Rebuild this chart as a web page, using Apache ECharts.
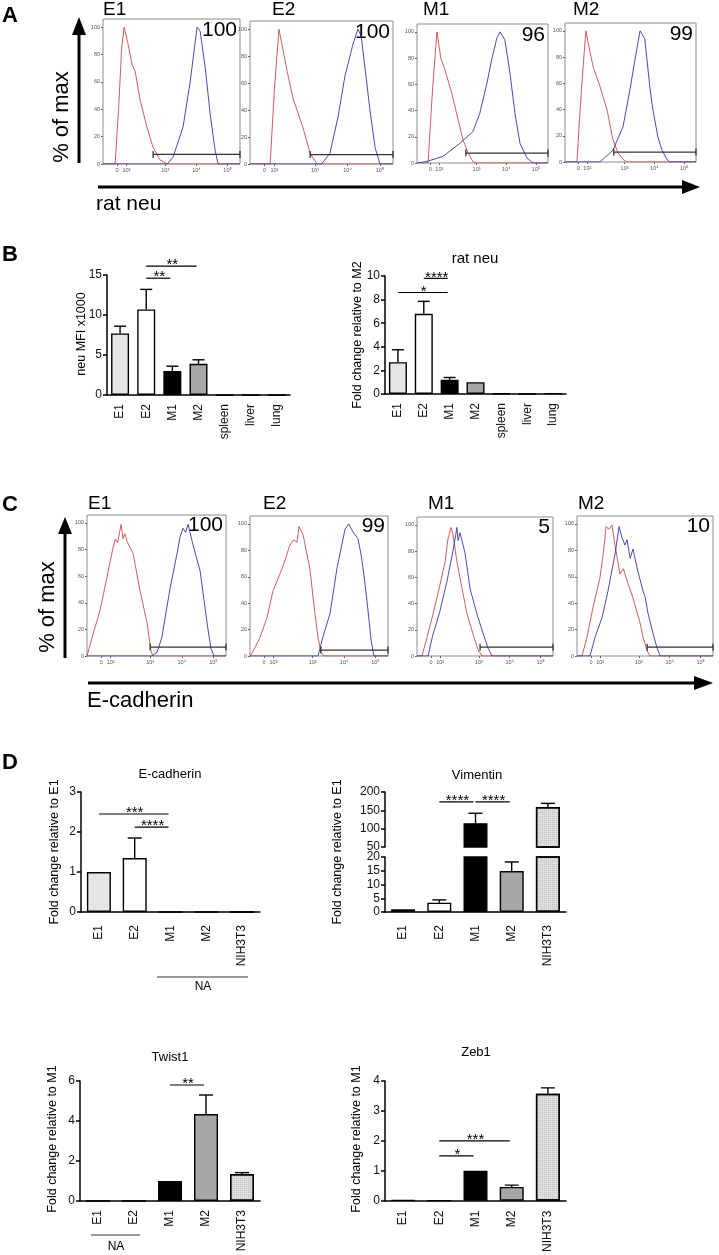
<!DOCTYPE html>
<html>
<head>
<meta charset="utf-8">
<script src="https://cdn.jsdelivr.net/npm/echarts@6/dist/echarts.min.js"></script>
<style>
  html, body { margin: 0; padding: 0; background: #fff; }
  #chart { width: 719px; height: 1255px; }
</style>
</head>
<body>
<div id="chart"></div>
<script>
const FONT = "'Liberation Sans', Arial, Helvetica, sans-serif"

// ---------- flow histograms: x = log fluorescence (decades), y = % of max ----------
const histTickValues = [1.45, 1.75, 3, 4, 5]
const histTickText = ['0', '10²', '10³', '10⁴', '10⁵']
const histYTicks = [0, 20, 40, 60, 80, 100]
const histXMax = 5.4
const sampleNames = ['E1', 'E2', 'M1', 'M2']

// A: rat neu
const neuPositive = ['100', '100', '96', '99']
const neuCtrlE1 = [[1, 0], [1.39, 0], [1.5, 40], [1.6, 85], [1.68, 100], [1.8, 88], [1.93, 73], [2.03, 68], [2.19, 47], [2.41, 27], [2.61, 12], [2.83, 3], [3.06, 0], [5.4, 0]]
const neuStainE1 = [[1, 0], [3.06, 0], [3.25, 5], [3.57, 27], [3.8, 60], [3.96, 89], [4.02, 100], [4.12, 97], [4.28, 71], [4.44, 37], [4.6, 10], [4.7, 0], [5.4, 0]]
const neuCtrlE2 = [[1, 0], [1.62, 0], [1.75, 55], [1.89, 100], [2.02, 84], [2.14, 69], [2.32, 49], [2.63, 27], [2.85, 8], [3.06, 0], [5.4, 0]]
const neuStainE2 = [[1, 0], [3.2, 0], [3.46, 8], [3.71, 35], [3.92, 65], [4.17, 89], [4.32, 100], [4.42, 95], [4.57, 65], [4.69, 40], [4.85, 12], [5.0, 0], [5.4, 0]]
const neuCtrlM1 = [[1, 0], [1.37, 0], [1.52, 55], [1.67, 100], [1.8, 80], [1.94, 71], [2.17, 53], [2.38, 33], [2.54, 18], [2.71, 8], [2.88, 1], [3.0, 0], [5.4, 0]]
const neuStainM1 = [[1, 0], [1.3, 1], [1.87, 5], [2.44, 15], [2.88, 24], [3.11, 38], [3.35, 61], [3.52, 80], [3.68, 95], [3.79, 100], [3.95, 94], [4.12, 69], [4.29, 38], [4.46, 15], [4.69, 4], [4.89, 0], [5.4, 0]]
const neuCtrlM2 = [[1, 0], [1.4, 0], [1.55, 55], [1.7, 100], [1.94, 73], [2.17, 58], [2.41, 40], [2.61, 17], [2.78, 7], [2.95, 2], [3.08, 0], [5.4, 0]]
const neuStainM2 = [[1, 0], [2.17, 0], [2.61, 9], [2.95, 27], [3.18, 55], [3.35, 78], [3.52, 100], [3.68, 94], [3.85, 57], [3.95, 40], [4.12, 19], [4.26, 9], [4.42, 2], [4.52, 0], [5.4, 0]]
const neuGateFrom = [2.61, 2.85, 2.64, 2.64]
const neuGateAt = [7, 7, 7.6, 7.6]

// C: E-cadherin
const ecadPositive = ['100', '99', '5', '10']
const ecadCtrlE1 = [[1, 0], [1.03, 0], [1.16, 14], [1.41, 34], [1.63, 59], [1.82, 81], [1.9, 88], [1.97, 85], [2.08, 99], [2.14, 88], [2.2, 92], [2.27, 86], [2.46, 77], [2.68, 49], [2.9, 25], [3.03, 3], [3.09, 0], [5.4, 0]]
const ecadStainE1 = [[1, 0], [3.06, 0], [3.22, 3], [3.37, 14], [3.63, 51], [3.85, 77], [3.95, 90], [4.04, 96], [4.12, 93], [4.2, 99], [4.26, 99], [4.35, 84], [4.58, 64], [4.8, 25], [4.92, 6], [5.02, 0], [5.4, 0]]
const ecadCtrlE2 = [[1, 0], [1.06, 2], [1.32, 14], [1.54, 29], [1.73, 49], [2.02, 66], [2.15, 75], [2.27, 84], [2.4, 88], [2.5, 86], [2.56, 98], [2.69, 92], [2.91, 66], [3.07, 32], [3.17, 14], [3.26, 3], [3.36, 0], [5.4, 0]]
const ecadStainE2 = [[1, 0], [3.17, 0], [3.32, 14], [3.55, 32], [3.77, 66], [4.03, 96], [4.15, 100], [4.28, 94], [4.44, 89], [4.54, 77], [4.63, 62], [4.76, 35], [4.86, 12], [4.95, 0], [5.4, 0]]
const ecadCtrlM1 = [[1, 0], [1.16, 0], [1.32, 14], [1.52, 32], [1.74, 54], [1.91, 72], [2.0, 89], [2.1, 98], [2.17, 92], [2.29, 72], [2.46, 51], [2.62, 32], [2.81, 17], [2.97, 5], [3.1, 0], [5.4, 0]]
const ecadStainM1 = [[1, 0], [1.36, 0], [1.49, 14], [1.74, 34], [1.97, 57], [2.17, 81], [2.25, 92], [2.29, 98], [2.33, 88], [2.39, 94], [2.55, 79], [2.72, 51], [2.94, 32], [3.14, 17], [3.3, 6], [3.43, 0], [5.4, 0]]
const ecadCtrlM2 = [[1, 0], [1.16, 0], [1.32, 14], [1.52, 37], [1.74, 59], [1.85, 78], [1.94, 98], [2.03, 96], [2.13, 99], [2.23, 84], [2.39, 62], [2.5, 66], [2.62, 57], [2.81, 44], [3.04, 25], [3.14, 14], [3.27, 4], [3.36, 0], [5.4, 0]]
const ecadStainM2 = [[1, 0], [1.42, 0], [1.58, 14], [1.81, 29], [2.0, 49], [2.23, 77], [2.36, 98], [2.45, 90], [2.55, 84], [2.62, 88], [2.72, 74], [2.81, 81], [2.97, 64], [3.14, 49], [3.2, 45], [3.3, 32], [3.46, 17], [3.59, 6], [3.69, 0], [5.4, 0]]
const ecadGateFrom = [3.0, 3.26, 3.04, 3.27]
const ecadGateAt = [6.7, 4.5, 6.7, 6.7]

// ---------- bar charts ----------
// B
const tissueCats = ['E1', 'E2', 'M1', 'M2', 'spleen', 'liver', 'lung']
const neuMfiMean = [7.7, 10.7, 3.0, 3.9, 0, 0, 0]
const neuMfiSem = [0.9, 2.5, 0.6, 0.5, 0, 0, 0]
const neuMfiSig = [['E2', 'M1', 14.6, '**'], ['E2', 'M2', 16.1, '**']]
const neuFoldMean = [2.7, 6.8, 1.2, 1.0, 0.05, 0, 0.07]
const neuFoldSem = [1.05, 1.05, 0.2, 0, 0, 0, 0]
const neuFoldSig = [['E1', 'M1', 8.6, '*'], ['E2', 'M1', 9.8, '****']]

// D
const lineCats = ['E1', 'E2', 'M1', 'M2', 'NIH3T3']
const ecadFoldMean = [1.0, 1.35, 0, 0, 0]
const ecadFoldSem = [0, 0.5, 0, 0, 0]
const ecadFoldSig = [['E1', 'M1', 2.45, '***'], ['E2', 'M1', 2.12, '****']]
const vimFoldMean = [1.0, 3.4, 115, 14.9, 159]
const vimFoldSem = [0, 1.0, 27, 3.3, 10]
const vimFoldSig = [['E2', 'M1', 173, '****'], ['M1', 'M2', 173, '****']]
const twistFoldMean = [0, 0, 1.0, 4.35, 1.35]
const twistFoldSem = [0, 0, 0, 0.95, 0.07]
const twistFoldSig = [['M1', 'M2', 5.8, '**']]
const zebFoldMean = [0.02, 0, 1.0, 0.46, 3.57]
const zebFoldSem = [0, 0, 0, 0.06, 0.2]
const zebFoldSig = [['E2', 'M2', 2.0, '***'], ['E2', 'M1', 1.5, '*']]

// ---------- styles ----------
const barFill = { E1: '#e6e6e6', E2: '#ffffff', M1: '#000000', M2: '#a7a7a7', NIH3T3: '#dedede' }
const redLine = '#d44848'
const blueLine = '#3535b2'

const grid = [], xAxis = [], yAxis = [], series = [], graphic = []

function addHist(box, ctrl, stain, gateFrom, gateAt) {
  const gi = grid.length
  grid.push({ left: box.l, top: box.t, width: box.w, height: box.h, show: true, borderColor: '#8c8c8c', borderWidth: 1, backgroundColor: '#fff' })
  xAxis.push({
    gridIndex: gi, type: 'value', min: 1, max: histXMax,
    axisLine: { show: false },
    axisTick: { customValues: histTickValues, length: 2, lineStyle: { color: '#666' } },
    axisLabel: { customValues: histTickValues, formatter: v => histTickText[histTickValues.indexOf(v)] || '', fontSize: 5.5, color: '#555', margin: 3, fontFamily: FONT },
    splitLine: { show: false }
  })
  yAxis.push({
    gridIndex: gi, type: 'value', min: 0, max: 106,
    axisLine: { show: false },
    axisTick: { customValues: histYTicks, length: 2, lineStyle: { color: '#666' } },
    axisLabel: { customValues: histYTicks, fontSize: 5.5, color: '#555', margin: 3, fontFamily: FONT },
    splitLine: { show: false }
  })
  series.push({ type: 'line', xAxisIndex: gi, yAxisIndex: gi, data: ctrl, symbol: 'none', silent: true, lineStyle: { color: redLine, width: 0.9 }, z: 2 })
  series.push({ type: 'line', xAxisIndex: gi, yAxisIndex: gi, data: stain, symbol: 'none', silent: true, lineStyle: { color: blueLine, width: 0.9 }, z: 3 })
  series.push({
    type: 'line', xAxisIndex: gi, yAxisIndex: gi, data: [[gateFrom, gateAt], [histXMax, gateAt]],
    symbol: 'rect', symbolSize: [1.3, 7], showSymbol: true, silent: true,
    itemStyle: { color: '#333' }, lineStyle: { color: '#333', width: 1.3 }, z: 4
  })
}

function errorBar(capHalf) {
  return function (params, api) {
    const lo = api.coord([api.value(0), api.value(1)])
    const hi = api.coord([api.value(0), api.value(2)])
    const st = { stroke: '#000', lineWidth: 1.4 }
    return {
      type: 'group', children: [
        { type: 'line', shape: { x1: lo[0], y1: lo[1], x2: hi[0], y2: hi[1] }, style: st },
        { type: 'line', shape: { x1: hi[0] - capHalf, y1: hi[1], x2: hi[0] + capHalf, y2: hi[1] }, style: st }
      ]
    }
  }
}

function sigBar(sig) {
  return function (params, api) {
    const a = api.coord([api.value(0), api.value(1)])
    const b = api.coord([api.value(2), api.value(1)])
    return {
      type: 'group', children: [
        { type: 'line', shape: { x1: a[0], y1: a[1], x2: b[0] - 2, y2: b[1] }, style: { stroke: '#000', lineWidth: 1.2 } },
        { type: 'text', x: (a[0] + b[0]) / 2, y: a[1] - 1, style: { text: sig[params.dataIndex][3], fill: '#000', font: '15px ' + FONT, textAlign: 'center', textVerticalAlign: 'middle', align: 'center', verticalAlign: 'middle' } }
      ]
    }
  }
}

function barStyle(cat) {
  const s = { color: barFill[cat] || '#ffffff' }
  if (cat === 'NIH3T3') {
    s.decal = { symbol: 'rect', symbolSize: 1, dashArrayX: [1, 1], dashArrayY: [1, 1], color: 'rgba(0,0,0,0.12)' }
  }
  return s
}

function addBars(box, cats, mean, sem, yMin, yMax, yStep, opt) {
  const gi = grid.length
  grid.push({ left: box.l, top: box.t, width: box.w, height: box.h })
  xAxis.push({
    gridIndex: gi, type: 'category', data: cats, show: opt.showX !== false,
    axisLine: { lineStyle: { color: '#000', width: 1.5 } },
    axisTick: { alignWithLabel: true, length: 5, lineStyle: { color: '#000', width: 1.5 } },
    axisLabel: { rotate: 90, fontSize: 12, color: '#111', margin: opt.labelMargin, fontFamily: FONT }
  })
  yAxis.push({
    gridIndex: gi, type: 'value', min: yMin, max: yMax, interval: yStep,
    axisLine: { show: true, lineStyle: { color: '#000', width: 1.5 } },
    axisTick: { show: true, length: 4, lineStyle: { color: '#000', width: 1.5 } },
    axisLabel: { fontSize: 12, color: '#111', margin: 5, fontFamily: FONT },
    splitLine: { show: false }
  })
  series.push({
    type: 'bar', xAxisIndex: gi, yAxisIndex: gi, barWidth: opt.barWidth, clip: true, silent: true,
    data: mean.map((v, i) => ({ value: v, itemStyle: barStyle(cats[i]) })),
    itemStyle: { borderColor: '#000', borderWidth: 1.4 }
  })
  series.push({
    type: 'custom', xAxisIndex: gi, yAxisIndex: gi, clip: true, silent: true,
    data: mean.map((v, i) => [i, v, v + sem[i]]).filter(d => d[2] > d[1]),
    encode: { x: 0, y: [1, 2] },
    renderItem: errorBar(opt.cap)
  })
  if (opt.sig) {
    series.push({
      type: 'custom', xAxisIndex: gi, yAxisIndex: gi, silent: true,
      data: opt.sig.map(s => [cats.indexOf(s[0]), s[2], cats.indexOf(s[1])]),
      encode: { x: [0, 2], y: 1 },
      renderItem: sigBar(opt.sig)
    })
  }
}

function txt(x, y, text, size, o) {
  o = o || {}
  graphic.push({
    type: 'text', x: x, y: y, rotation: o.rot || 0, silent: true,
    style: {
      text: text, fill: '#000', font: (o.bold ? 'bold ' : '') + size + 'px ' + FONT,
      textAlign: o.align || 'left', textVerticalAlign: o.valign || 'top',
      align: o.align || 'left', verticalAlign: o.valign || 'top'
    }
  })
}
function seg(x1, y1, x2, y2, w, color) {
  graphic.push({ type: 'line', silent: true, shape: { x1, y1, x2, y2 }, style: { stroke: color || '#000', lineWidth: w } })
}
function head(points) {
  graphic.push({ type: 'polygon', silent: true, shape: { points }, style: { fill: '#000' } })
}

// ---------- panel A ----------
const aBoxes = [{ l: 103, t: 19, w: 137, h: 145 }, { l: 250, t: 21, w: 143, h: 143 }, { l: 417, t: 24, w: 131, h: 139 }, { l: 565, t: 23, w: 131, h: 139 }]
const neuCtrl = [neuCtrlE1, neuCtrlE2, neuCtrlM1, neuCtrlM2]
const neuStain = [neuStainE1, neuStainE2, neuStainM1, neuStainM2]
aBoxes.forEach((b, i) => addHist(b, neuCtrl[i], neuStain[i], neuGateFrom[i], neuGateAt[i]))
const aTitleX = [103, 272, 423, 573]
aBoxes.forEach((b, i) => {
  txt(aTitleX[i], 0, sampleNames[i], 19)
  txt(b.l + b.w - 3, b.t + 1, neuPositive[i], 21, { align: 'right' })
})
txt(2, 5, 'A', 22, { bold: true })
txt(62, 117, '% of max', 22, { rot: Math.PI / 2, align: 'center', valign: 'middle' })
seg(79, 163, 79, 32, 3)
head([[72, 35], [79, 17], [86, 35]])
seg(98, 187, 684, 187, 3)
head([[682, 180], [700, 187], [682, 194]])
txt(96, 194, 'rat neu', 21)

// ---------- panel B ----------
txt(2, 244, 'B', 22, { bold: true })
addBars({ l: 107, t: 275, w: 183, h: 120 }, tissueCats, neuMfiMean, neuMfiSem, 0, 15, 5, { barWidth: 18, cap: 6, labelMargin: 9, sig: neuMfiSig })
addBars({ l: 385, t: 276, w: 181, h: 118 }, tissueCats, neuFoldMean, neuFoldSem, 0, 10, 2, { barWidth: 18, cap: 6, labelMargin: 9, sig: neuFoldSig })
txt(82, 334, 'neu MFI x1000', 12.5, { rot: Math.PI / 2, align: 'center', valign: 'middle' })
txt(358, 335, 'Fold change relative to M2', 12.5, { rot: Math.PI / 2, align: 'center', valign: 'middle' })
txt(475, 259, 'rat neu', 15, { align: 'center', valign: 'middle' })

// ---------- panel C ----------
const cBoxes = [{ l: 87, t: 515, w: 139, h: 141 }, { l: 250, t: 516, w: 138, h: 140 }, { l: 417, t: 517, w: 136, h: 139 }, { l: 577, t: 516, w: 136, h: 140 }]
const ecadCtrl = [ecadCtrlE1, ecadCtrlE2, ecadCtrlM1, ecadCtrlM2]
const ecadStain = [ecadStainE1, ecadStainE2, ecadStainM1, ecadStainM2]
cBoxes.forEach((b, i) => addHist(b, ecadCtrl[i], ecadStain[i], ecadGateFrom[i], ecadGateAt[i]))
const cTitleX = [88, 263, 428, 578]
cBoxes.forEach((b, i) => {
  txt(cTitleX[i], 494, sampleNames[i], 19)
  txt(b.l + b.w - 3, b.t, ecadPositive[i], 21, { align: 'right' })
})
txt(2, 494, 'C', 22, { bold: true })
txt(48, 607, '% of max', 22, { rot: Math.PI / 2, align: 'center', valign: 'middle' })
seg(65, 658, 65, 532, 3)
head([[58, 534], [65, 517], [72, 534]])
seg(88, 683, 696, 683, 3)
head([[694, 676], [713, 683], [694, 690]])
txt(87, 690, 'E-cadherin', 22)

// ---------- panel D ----------
txt(2, 752, 'D', 22, { bold: true })
addBars({ l: 81, t: 792, w: 179, h: 120 }, lineCats, ecadFoldMean, ecadFoldSem, 0, 3, 1, { barWidth: 24, cap: 7, labelMargin: 13, sig: ecadFoldSig })
addBars({ l: 385, t: 792, w: 181, h: 55 }, lineCats, vimFoldMean, vimFoldSem, 50, 200, 50, { barWidth: 24, cap: 7, labelMargin: 13, sig: vimFoldSig, showX: false })
addBars({ l: 385, t: 857, w: 181, h: 55 }, lineCats, vimFoldMean, vimFoldSem, 0, 20, 5, { barWidth: 24, cap: 7, labelMargin: 13 })
addBars({ l: 80, t: 1081, w: 180, h: 120 }, lineCats, twistFoldMean, twistFoldSem, 0, 6, 2, { barWidth: 24, cap: 7, labelMargin: 9, sig: twistFoldSig })
addBars({ l: 385, t: 1081, w: 181, h: 120 }, lineCats, zebFoldMean, zebFoldSem, 0, 4, 1, { barWidth: 24, cap: 7, labelMargin: 10, sig: zebFoldSig })

txt(170, 774, 'E-cadherin', 13, { align: 'center', valign: 'middle' })
txt(477, 775, 'Vimentin', 13, { align: 'center', valign: 'middle' })
txt(170, 1057, 'Twist1', 13, { align: 'center', valign: 'middle' })
txt(476, 1052, 'Zeb1', 13, { align: 'center', valign: 'middle' })
txt(55, 852, 'Fold change relative to E1', 12.5, { rot: Math.PI / 2, align: 'center', valign: 'middle' })
txt(338, 852, 'Fold change relative to E1', 12.5, { rot: Math.PI / 2, align: 'center', valign: 'middle' })
txt(53, 1139, 'Fold change relative to M1', 12.5, { rot: Math.PI / 2, align: 'center', valign: 'middle' })
txt(357, 1139, 'Fold change relative to M1', 12.5, { rot: Math.PI / 2, align: 'center', valign: 'middle' })
seg(157, 977, 248, 977, 1.2, '#333')
txt(203, 987, 'NA', 12, { align: 'center', valign: 'middle' })
seg(91, 1235, 140, 1235, 1.2, '#333')
txt(116, 1247, 'NA', 12, { align: 'center', valign: 'middle' })

const chart = echarts.init(document.getElementById('chart'))
chart.setOption({
  animation: false,
  backgroundColor: '#fff',
  textStyle: { fontFamily: FONT },
  grid: grid,
  xAxis: xAxis,
  yAxis: yAxis,
  series: series,
  graphic: graphic
})
</script>
</body>
</html>
